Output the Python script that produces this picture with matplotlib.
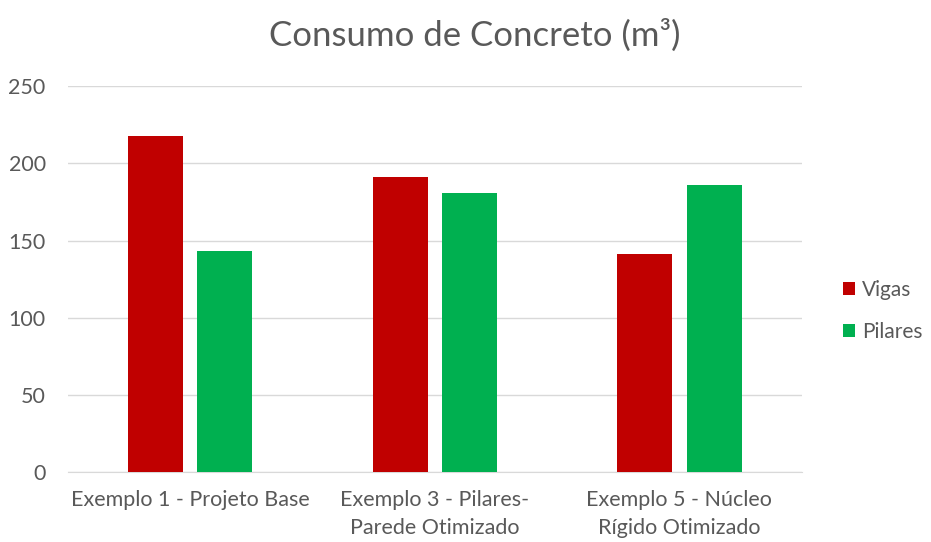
import matplotlib
matplotlib.use("Agg")
import matplotlib.pyplot as plt
import numpy as np

categories = ["Exemplo 1 - Projeto Base", "Exemplo 3 - Pilares-\nParede Otimizado",
              "Exemplo 5 - Núcleo\nRígido Otimizado"]
vigas = [218, 191, 141]
pilares = [143, 180.5, 186]
yticks = [0, 50, 100, 150, 200, 250]

TEXT = "#595959"
plt.rcParams["font.family"] = ["Lato", "DejaVu Sans"]

fig = plt.figure(figsize=(9.31, 5.42), dpi=100)
ax = fig.add_axes([0.073, 0.129, 0.788, 0.712])

x = np.arange(len(categories))
width = 0.225
ax.bar(x - 0.142, vigas, width, color="#C00000", label="Vigas", zorder=3)
ax.bar(x + 0.142, pilares, width, color="#00B050", label="Pilares", zorder=3)

ax.set_xlim(-0.5, len(categories) - 0.5)
ax.set_ylim(0, 250)
ax.set_yticks(yticks)
ax.set_xticks(x)
ax.set_xticklabels(categories, fontsize=15.5, color=TEXT, linespacing=1.5)
ax.tick_params(axis="y", labelsize=15.5, labelcolor=TEXT, length=0, pad=16)
ax.tick_params(axis="x", length=0, pad=13)
ax.grid(axis="y", color="#D9D9D9", linewidth=1, zorder=0)
for s in ["top", "right", "left"]:
    ax.spines[s].set_visible(False)
ax.spines["bottom"].set_color("#D9D9D9")

fig.text(0.51, 0.935, "Consumo de Concreto (m³)", ha="center", va="center",
         fontsize=25, color=TEXT)

leg = fig.legend(loc="center left", bbox_to_anchor=(0.905, 0.427), frameon=False,
                 fontsize=15, handlelength=0.6, handleheight=0.6,
                 handletextpad=0.35, labelspacing=1.05, borderpad=0,
                 borderaxespad=0)
for t in leg.get_texts():
    t.set_color(TEXT)

fig.savefig("out.png", dpi=100)
